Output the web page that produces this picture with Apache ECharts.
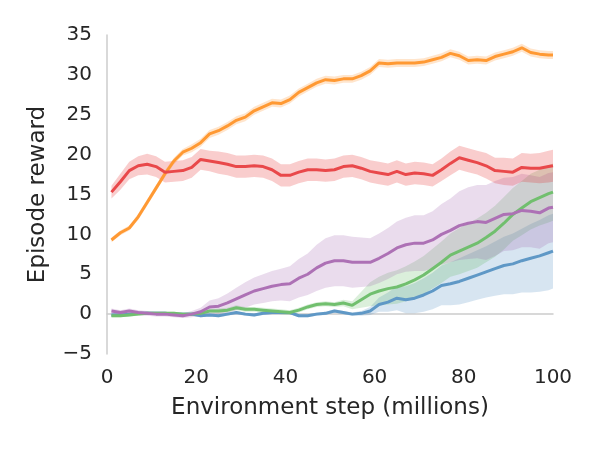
<!DOCTYPE html>
<html>
<head>
<meta charset="utf-8">
<script src="https://cdn.jsdelivr.net/npm/echarts@6/dist/echarts.min.js"></script>
<style>
  html, body { margin: 0; padding: 0; background: #fff; }
  #chart { width: 600px; height: 450px; }
</style>
</head>
<body>
<div id="chart"></div>
<script>
// environment steps (millions)
const steps = [1, 3, 5, 7, 9, 11, 13, 15, 17, 19, 21, 23, 25, 27, 29, 31, 33, 35, 37, 39,
  41, 43, 45, 47, 49, 51, 53, 55, 57, 59, 61, 63, 65, 67, 69, 71, 73, 75, 77, 79,
  81, 83, 85, 87, 89, 91, 93, 95, 97, 99, 100]

const orangeMean = [9.3, 10.2, 10.8, 12.2, 14.0, 15.8, 17.6, 19.2, 20.3, 20.8, 21.5, 22.6, 23.0, 23.6, 24.3, 24.7, 25.5, 26.0, 26.5, 26.4,
  26.9, 27.8, 28.4, 29.0, 29.4, 29.3, 29.5, 29.5, 29.9, 30.5, 31.5, 31.4, 31.5, 31.5, 31.5, 31.6, 31.9, 32.2, 32.7, 32.4,
  31.8, 31.9, 31.8, 32.3, 32.6, 32.9, 33.4, 32.8, 32.6, 32.5, 32.5]
const orangeSpread = [0.3, 0.3, 0.3, 0.4, 0.4, 0.4, 0.4, 0.4, 0.4, 0.5, 0.5, 0.5, 0.5, 0.5, 0.5, 0.5, 0.5, 0.5, 0.5, 0.5,
  0.5, 0.5, 0.5, 0.5, 0.5, 0.5, 0.5, 0.5, 0.5, 0.5, 0.5, 0.5, 0.5, 0.5, 0.5, 0.5, 0.5, 0.5, 0.5, 0.5,
  0.5, 0.5, 0.5, 0.5, 0.5, 0.5, 0.5, 0.5, 0.5, 0.5, 0.5]

const redMean = [15.3, 16.6, 18.0, 18.6, 18.8, 18.5, 17.8, 17.9, 18.0, 18.4, 19.4, 19.2, 19.0, 18.8, 18.5, 18.5, 18.6, 18.5, 18.1, 17.4,
  17.4, 17.8, 18.1, 18.1, 18.0, 18.1, 18.5, 18.6, 18.3, 17.9, 17.7, 17.5, 17.9, 17.5, 17.7, 17.6, 17.4, 18.1, 18.9, 19.6,
  19.3, 19.0, 18.6, 18.0, 17.9, 17.8, 18.4, 18.3, 18.3, 18.5, 18.6]
const redSpread = [0.8, 1.0, 1.1, 1.2, 1.3, 1.3, 1.3, 1.3, 1.3, 1.3, 1.3, 1.3, 1.4, 1.4, 1.4, 1.4, 1.4, 1.4, 1.4, 1.4,
  1.4, 1.4, 1.4, 1.4, 1.4, 1.4, 1.4, 1.4, 1.4, 1.4, 1.4, 1.4, 1.4, 1.4, 1.4, 1.4, 1.4, 1.4, 1.5, 1.5,
  1.5, 1.5, 1.6, 1.6, 1.7, 1.7, 1.8, 1.8, 1.9, 2.0, 2.0]

const purpleMean = [0.4, 0.2, 0.4, 0.2, 0.1, 0.0, 0.0, -0.1, -0.2, 0.0, 0.3, 0.9, 1.0, 1.4, 1.9, 2.4, 2.9, 3.2, 3.5, 3.7,
  3.8, 4.5, 5.0, 5.8, 6.4, 6.7, 6.7, 6.5, 6.5, 6.5, 7.0, 7.6, 8.3, 8.7, 8.9, 8.9, 9.3, 10.0, 10.5, 11.1,
  11.4, 11.6, 11.5, 12.0, 12.5, 12.6, 13.0, 12.9, 12.7, 13.3, 13.4]
const purpleSpread = [0.3, 0.3, 0.3, 0.3, 0.3, 0.3, 0.3, 0.3, 0.3, 0.4, 0.5, 0.8, 1.0, 1.2, 1.4, 1.6, 1.7, 1.8, 1.9, 2.0,
  2.2, 2.4, 2.6, 2.9, 3.1, 3.2, 3.2, 3.2, 3.1, 3.0, 3.1, 3.2, 3.3, 3.4, 3.5, 3.5, 3.6, 3.8, 4.0, 4.3,
  4.5, 4.6, 4.7, 4.7, 4.6, 4.6, 4.6, 4.5, 4.5, 4.4, 4.4]

const greenMean = [-0.2, -0.2, -0.1, 0.0, 0.1, 0.1, 0.1, 0.1, 0.0, 0.0, 0.1, 0.4, 0.4, 0.5, 0.8, 0.6, 0.6, 0.5, 0.4, 0.3,
  0.2, 0.5, 0.9, 1.2, 1.3, 1.2, 1.4, 1.1, 1.8, 2.5, 2.9, 3.2, 3.4, 3.8, 4.3, 4.9, 5.7, 6.5, 7.4, 7.9,
  8.4, 8.9, 9.6, 10.4, 11.4, 12.5, 13.3, 14.1, 14.6, 15.1, 15.3]
const greenSpread = [0.2, 0.2, 0.2, 0.2, 0.2, 0.2, 0.2, 0.2, 0.2, 0.2, 0.2, 0.2, 0.3, 0.3, 0.3, 0.3, 0.3, 0.3, 0.3, 0.3,
  0.3, 0.3, 0.3, 0.3, 0.3, 0.3, 0.4, 0.5, 1.0, 1.5, 1.8, 2.0, 2.1, 2.2, 2.3, 2.4, 2.5, 2.6, 2.7, 2.9,
  3.0, 3.1, 3.1, 3.2, 3.3, 3.3, 3.4, 3.5, 3.5, 3.6, 3.6]

const blueMean = [-0.1, -0.1, 0.0, 0.1, 0.1, 0.1, 0.1, 0.0, 0.0, 0.0, -0.2, -0.1, -0.2, 0.0, 0.2, 0.0, -0.1, 0.1, 0.2, 0.2,
  0.2, -0.2, -0.2, 0.0, 0.1, 0.4, 0.2, 0.0, 0.1, 0.4, 1.2, 1.5, 2.0, 1.8, 2.0, 2.4, 2.9, 3.6, 3.8, 4.1,
  4.5, 4.9, 5.3, 5.7, 6.1, 6.3, 6.7, 7.0, 7.3, 7.7, 7.9]
const blueSpread = [0.2, 0.2, 0.2, 0.2, 0.2, 0.2, 0.2, 0.2, 0.2, 0.2, 0.2, 0.2, 0.2, 0.2, 0.2, 0.2, 0.2, 0.2, 0.2, 0.2,
  0.2, 0.2, 0.2, 0.2, 0.2, 0.2, 0.2, 0.2, 0.3, 0.5, 0.9, 1.2, 1.5, 1.7, 1.9, 2.1, 2.3, 2.5, 2.7, 2.9,
  3.0, 3.1, 3.2, 3.4, 3.6, 3.8, 4.0, 4.3, 4.5, 4.7, 4.7]

const xTicks = [0, 20, 40, 60, 80, 100]
const yTicks = [-5, 0, 5, 10, 15, 20, 25, 30, 35]

// drawing order: blue, green, purple, orange, red
const runs = [
  { name: 'blue', mean: blueMean, spread: blueSpread, color: '#5f98c6', band: 'rgba(55, 126, 184, 0.2)' },
  { name: 'green', mean: greenMean, spread: greenSpread, color: '#71bf6e', band: 'rgba(77, 175, 74, 0.2)' },
  { name: 'purple', mean: purpleMean, spread: purpleSpread, color: '#ad71b5', band: 'rgba(152, 78, 163, 0.2)' },
  { name: 'orange', mean: orangeMean, spread: orangeSpread, color: '#ff9933', band: 'rgba(255, 127, 0, 0.2)' },
  { name: 'red', mean: redMean, spread: redSpread, color: '#e9484a', band: 'rgba(228, 26, 28, 0.22)' }
]

const textColor = '#262626'
const font = 'DejaVu Sans'

// shaded band (mean +/- spread) as one polygon per run, placed through the axes
function renderBand(params, api) {
  const run = runs[params.dataIndex]
  const upper = steps.map((x, i) => api.coord([x, run.mean[i] + run.spread[i]]))
  const lower = steps.map((x, i) => api.coord([x, run.mean[i] - run.spread[i]])).reverse()
  return {
    type: 'polygon',
    shape: { points: upper.concat(lower) },
    style: { fill: run.band, stroke: null }
  }
}

function buildSeries() {
  const series = [{
    name: 'bands',
    type: 'custom',
    silent: true,
    renderItem: renderBand,
    data: runs.map((run, i) => [steps[0], run.mean[0]]),
    z: 1
  }]
  runs.forEach(run => {
    series.push({
      name: run.name,
      type: 'line',
      data: steps.map((x, i) => [x, run.mean[i]]),
      showSymbol: false,
      lineStyle: { color: run.color, width: 3 },
      itemStyle: { color: run.color },
      z: 3
    })
  })
  return series
}

const chart = echarts.init(document.getElementById('chart'), null, { renderer: 'canvas' })
chart.setOption({
  animation: false,
  backgroundColor: '#fff',
  textStyle: { fontFamily: font },
  grid: { left: 107, right: 47, top: 35, bottom: 96 },
  xAxis: {
    type: 'value',
    min: xTicks[0],
    max: xTicks[xTicks.length - 1],
    interval: 20,
    name: 'Environment step (millions)',
    nameLocation: 'middle',
    nameGap: 43,
    nameTextStyle: { fontSize: 23, color: textColor, fontFamily: font },
    axisLine: { show: true, lineStyle: { color: '#cccccc', width: 1.5 } },
    axisTick: { show: false },
    splitLine: { show: false },
    axisLabel: { fontSize: 20, color: textColor, margin: 14, fontFamily: font }
  },
  yAxis: {
    type: 'value',
    min: yTicks[0],
    max: yTicks[yTicks.length - 1],
    interval: 5,
    name: 'Episode reward',
    nameLocation: 'middle',
    nameRotate: 90,
    nameGap: 57,
    nameTextStyle: { fontSize: 23, color: textColor, fontFamily: font },
    axisLine: { show: true, lineStyle: { color: '#cccccc', width: 1.5 } },
    axisTick: { show: false },
    splitLine: { show: false },
    axisLabel: {
      fontSize: 20,
      color: textColor,
      margin: 15,
      fontFamily: font,
      formatter: v => String(v).replace('-', '\u2212')
    }
  },
  series: buildSeries()
})
</script>
</body>
</html>
